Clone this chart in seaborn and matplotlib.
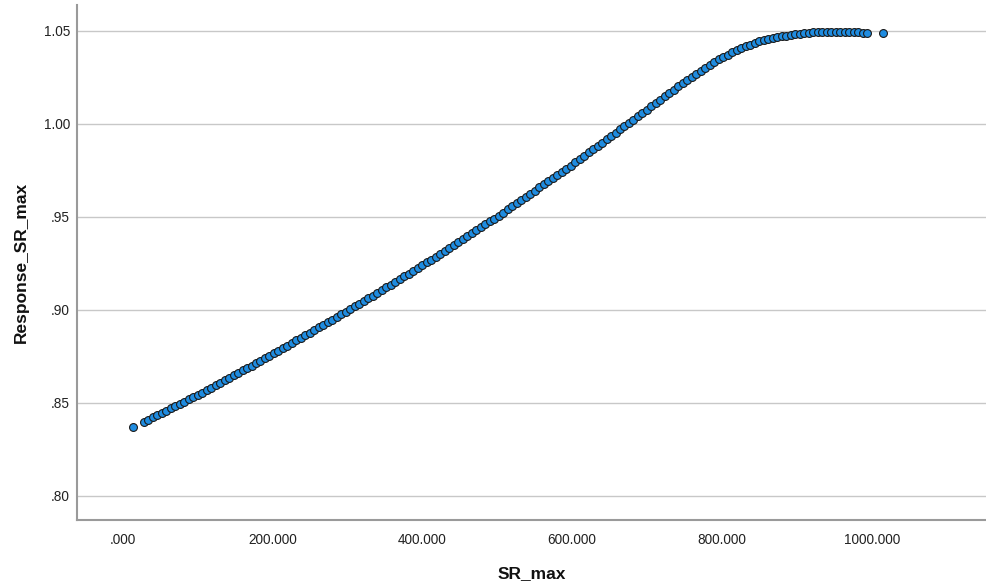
import matplotlib
matplotlib.use("Agg")
import matplotlib.pyplot as plt
import seaborn as sns
import pandas as pd

sr_max = [14,
          28, 34, 40, 46, 52, 58, 64, 70, 76, 82, 88, 94, 100,
          106, 112, 118, 124, 130, 136, 142, 148, 154, 160, 166, 172, 178, 184, 190, 196,
          202, 208, 214, 220, 226, 232, 238, 244, 250, 256, 262, 268, 274, 280, 286, 292, 298,
          304, 310, 316, 322, 328, 334, 340, 346, 352, 358, 364, 370, 376, 382, 388, 394, 400,
          406, 412, 418, 424, 430, 436, 442, 448, 454, 460, 466, 472, 478, 484, 490, 496,
          502, 508, 514, 520, 526, 532, 538, 544, 550, 556, 562, 568, 574, 580, 586, 592, 598,
          604, 610, 616, 622, 628, 634, 640, 646, 652, 658, 664, 670, 676, 682, 688, 694, 700,
          706, 712, 718, 724, 730, 736, 742, 748, 754, 760, 766, 772, 778, 784, 790, 796,
          802, 808, 814, 820, 826, 832, 838, 844, 850, 856, 862, 868, 874, 880, 886, 892, 898,
          904, 910, 916, 922, 928, 934, 940, 946, 952, 958, 964, 970, 976, 982, 988, 994,
          1015]

response_sr_max = [0.8368,
                   0.8397, 0.8409, 0.8421, 0.8433, 0.8445, 0.8457, 0.8469, 0.8481, 0.8493, 0.8505, 0.8517, 0.8529, 0.8541,
                   0.8554, 0.8567, 0.8581, 0.8594, 0.8607, 0.8620, 0.8633, 0.8647, 0.8660, 0.8673, 0.8686, 0.8699, 0.8713, 0.8726, 0.8739, 0.8752,
                   0.8766, 0.8780, 0.8793, 0.8807, 0.8821, 0.8835, 0.8849, 0.8863, 0.8877, 0.8891, 0.8905, 0.8919, 0.8933, 0.8947, 0.8961, 0.8974, 0.8988,
                   0.9003, 0.9018, 0.9032, 0.9047, 0.9062, 0.9076, 0.9091, 0.9106, 0.9120, 0.9135, 0.9150, 0.9164, 0.9179, 0.9194, 0.9209, 0.9223, 0.9238,
                   0.9254, 0.9269, 0.9285, 0.9301, 0.9317, 0.9332, 0.9348, 0.9364, 0.9379, 0.9395, 0.9411, 0.9427, 0.9442, 0.9458, 0.9474, 0.9490,
                   0.9506, 0.9522, 0.9539, 0.9556, 0.9573, 0.9590, 0.9606, 0.9623, 0.9640, 0.9657, 0.9674, 0.9690, 0.9707, 0.9724, 0.9741, 0.9758, 0.9774,
                   0.9792, 0.9810, 0.9827, 0.9845, 0.9863, 0.9880, 0.9898, 0.9916, 0.9933, 0.9951, 0.9969, 0.9987, 1.0004, 1.0022, 1.0040, 1.0057, 1.0075,
                   1.0093, 1.0111, 1.0129, 1.0147, 1.0165, 1.0183, 1.0201, 1.0219, 1.0235, 1.0251, 1.0266, 1.0282, 1.0298, 1.0313, 1.0329, 1.0345,
                   1.0359, 1.0371, 1.0383, 1.0395, 1.0407, 1.0416, 1.0425, 1.0435, 1.0444, 1.0450, 1.0456, 1.0462, 1.0467, 1.0471, 1.0474, 1.0478, 1.0482,
                   1.0484, 1.0487, 1.0489, 1.0491, 1.0492, 1.0493, 1.0494, 1.0495, 1.0495, 1.0494, 1.0493, 1.0492, 1.0492, 1.0491, 1.0490, 1.0489,
                   1.0486]

x_ticks = [0, 200, 400, 600, 800, 1000]
x_tick_labels = [".000", "200.000", "400.000", "600.000", "800.000", "1000.000"]
y_ticks = [0.80, 0.85, 0.90, 0.95, 1.00, 1.05]
y_tick_labels = [".80", ".85", ".90", ".95", "1.00", "1.05"]

df = pd.DataFrame({"SR_max": sr_max, "Response_SR_max": response_sr_max})

sns.set_style("white")
plt.rcParams["font.family"] = ["Liberation Sans", "DejaVu Sans"]

fig = plt.figure(figsize=(9.87, 5.85), dpi=100)
ax = fig.add_axes([77 / 987, 1 - 520 / 585, 1 - 77 / 987, (520 - 5) / 585])

sns.scatterplot(data=df, x="SR_max", y="Response_SR_max", ax=ax,
                color="#1f8ce0", edgecolor="#1a1a1a", linewidth=0.8, s=32,
                zorder=3)

ax.set_xlim(-61, 1154)
ax.set_ylim(0.7869, 1.0638)
ax.set_xticks(x_ticks)
ax.set_xticklabels(x_tick_labels)
ax.set_yticks(y_ticks)
ax.set_yticklabels(y_tick_labels)
ax.tick_params(axis="both", length=0, labelsize=9.8, labelcolor="#222222")
ax.tick_params(axis="x", pad=9)
ax.tick_params(axis="y", pad=5)

ax.grid(axis="y", color="#c8c8c8", linewidth=1.0)
ax.grid(axis="x", visible=False)
ax.set_axisbelow(True)

for side in ["top", "right"]:
    ax.spines[side].set_visible(False)
for side in ["left", "bottom"]:
    ax.spines[side].set_color("#9a9a9a")
    ax.spines[side].set_linewidth(1.5)

ax.set_xlabel("SR_max", fontsize=12.5, fontweight="bold", labelpad=14, color="#111111")
ax.set_ylabel("Response_SR_max", fontsize=12.5, fontweight="bold", labelpad=11, color="#111111")

fig.savefig("out.png", dpi=100)
